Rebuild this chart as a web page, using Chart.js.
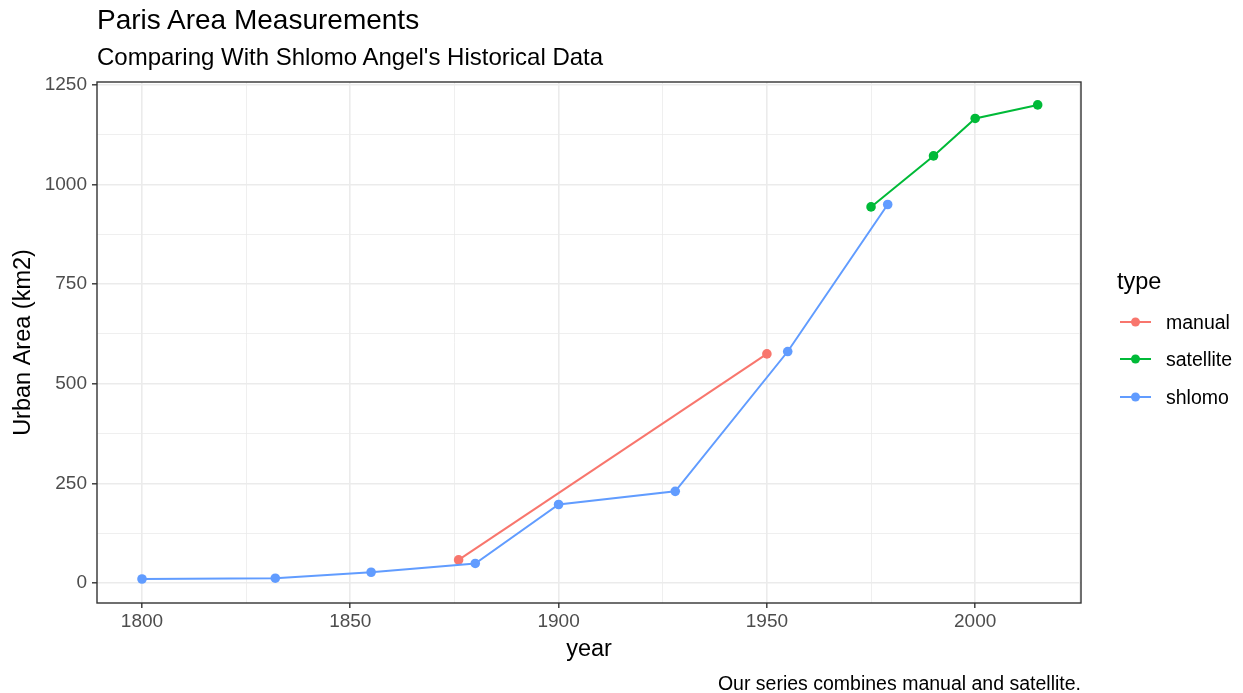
<!DOCTYPE html>
<html>
<head>
<meta charset="utf-8">
<script src="https://cdn.jsdelivr.net/npm/chart.js@4.4.1/dist/chart.umd.min.js"></script>
<style>
  html, body { margin: 0; padding: 0; background: #fff; }
  #wrap { position: relative; width: 1243px; height: 693px; font-family: "Liberation Sans", Arial, sans-serif; }
  #c { position: absolute; left: 0; top: 0; }
  .txt { position: absolute; white-space: nowrap; color: #000; line-height: 1; }
  #title { left: 97px; top: 6px; font-size: 28px; }
  #subtitle { left: 97px; top: 45px; font-size: 24px; }
  #caption { right: 162px; top: 674px; font-size: 19.5px; }
  #legTitle { left: 1117px; top: 270px; font-size: 23.5px; }
  .leg { position: absolute; left: 1118px; height: 20px; font-size: 19.5px; line-height: 1; }
  .leg svg { position: absolute; left: 0; top: 0; }
  .leg span { position: absolute; left: 48px; top: 1px; white-space: nowrap; }
</style>
</head>
<body>
<div id="wrap">
  <canvas id="c" width="1243" height="693"></canvas>
  <div class="txt" id="title">Paris Area Measurements</div>
  <div class="txt" id="subtitle">Comparing With Shlomo Angel's Historical Data</div>
  <div class="txt" id="caption">Our series combines manual and satellite.</div>
  <div class="txt" id="legTitle">type</div>
  <div id="legend"></div>
</div>
<script>
// ---- data ----
const seriesNames = ["manual", "satellite", "shlomo"];
const seriesColors = ["#F8766D", "#00BA38", "#619CFF"];

const manualYears = [1876, 1950];
const manualArea = [58, 575];

const satelliteYears = [1975, 1990, 2000, 2015];
const satelliteArea = [944, 1072, 1166, 1200];

const shlomoYears = [1800, 1832, 1855, 1880, 1900, 1928, 1955, 1979];
const shlomoArea = [10, 12, 27, 49, 197, 230, 581, 950];

const xMajorTicks = [1800, 1850, 1900, 1950, 2000];
const xMinorTicks = [1825, 1875, 1925, 1975, 2025];
const yMajorTicks = [0, 250, 500, 750, 1000, 1250];
const yMinorTicks = [125, 375, 625, 875, 1125];

// ---- build ----
const yearsList = [manualYears, satelliteYears, shlomoYears];
const areaList = [manualArea, satelliteArea, shlomoArea];
const orders = [2, 1, 0];

const datasets = seriesNames.map((name, i) => ({
  label: name,
  data: yearsList[i].map((x, j) => ({ x: x, y: areaList[i][j] })),
  borderColor: seriesColors[i],
  backgroundColor: seriesColors[i],
  pointBackgroundColor: seriesColors[i],
  pointBorderColor: seriesColors[i],
  pointRadius: 4.8,
  pointBorderWidth: 0,
  borderWidth: 2,
  tension: 0,
  order: orders[i]
}));

function sortedTicks(major, minor) {
  return major.concat(minor).sort((a, b) => a - b).map(v => ({ value: v, major: major.includes(v) }));
}

const panelBorder = {
  id: 'panelBorder',
  afterDraw(chart) {
    const a = chart.chartArea, ctx = chart.ctx;
    ctx.save();
    ctx.strokeStyle = '#333333';
    ctx.lineWidth = 1.4;
    ctx.strokeRect(a.left, a.top, a.right - a.left, a.bottom - a.top);
    ctx.restore();
  }
};

const chart = new Chart(document.getElementById('c'), {
  type: 'line',
  data: { datasets },
  plugins: [panelBorder],
  options: {
    responsive: false,
    animation: false,
    devicePixelRatio: 1,
    layout: { padding: { top: 82, right: 162, left: 0, bottom: 28 } },
    plugins: { legend: { display: false }, tooltip: { enabled: false }, title: { display: false } },
    scales: {
      x: {
        type: 'linear',
        min: 1789.2,
        max: 2025.4,
        afterBuildTicks(scale) { scale.ticks = sortedTicks(xMajorTicks, xMinorTicks); },
        afterFit(scale) { scale.height = 62; },
        ticks: {
          autoSkip: false,
          maxRotation: 0,
          padding: 2,
          color: '#4D4D4D',
          font: { family: 'Liberation Sans', size: 19 },
          callback: (v) => xMajorTicks.includes(v) ? String(v) : ''
        },
        grid: {
          color: '#EBEBEB',
          lineWidth: (ctx) => (ctx.tick && xMajorTicks.includes(ctx.tick.value)) ? 1.6 : 0.8,
          tickColor: (ctx) => (ctx.tick && xMajorTicks.includes(ctx.tick.value)) ? '#333333' : 'rgba(0,0,0,0)',
          tickLength: 5,
          tickWidth: 1.4,
          drawOnChartArea: true,
          drawTicks: true
        },
        border: { display: false },
        title: {
          display: true,
          text: 'year',
          color: '#000',
          font: { family: 'Liberation Sans', size: 23.5 },
          padding: { top: 0, bottom: 1 }
        }
      },
      y: {
        type: 'linear',
        min: -50.2,
        max: 1257.5,
        afterBuildTicks(scale) { scale.ticks = sortedTicks(yMajorTicks, yMinorTicks); },
        afterFit(scale) { scale.width = 97; },
        ticks: {
          autoSkip: false,
          padding: 5,
          color: '#4D4D4D',
          font: { family: 'Liberation Sans', size: 19 },
          callback: (v) => yMajorTicks.includes(v) ? String(v) : ''
        },
        grid: {
          color: '#EBEBEB',
          lineWidth: (ctx) => (ctx.tick && yMajorTicks.includes(ctx.tick.value)) ? 1.6 : 0.8,
          tickColor: (ctx) => (ctx.tick && yMajorTicks.includes(ctx.tick.value)) ? '#333333' : 'rgba(0,0,0,0)',
          tickLength: 5,
          tickWidth: 1.4,
          drawOnChartArea: true,
          drawTicks: true
        },
        border: { display: false },
        title: {
          display: true,
          text: 'Urban Area (km2)',
          color: '#000',
          font: { family: 'Liberation Sans', size: 23.5 },
          padding: { top: 9, bottom: 0 }
        }
      }
    }
  }
});

// ---- legend (HTML) ----
const leg = document.getElementById('legend');
const legTops = [312, 349, 387];
seriesNames.forEach((name, i) => {
  const d = document.createElement('div');
  d.className = 'leg';
  d.style.top = legTops[i] + 'px';
  d.innerHTML = '<svg width="36" height="20"><line x1="2" y1="10" x2="33" y2="10" stroke="' + seriesColors[i] +
    '" stroke-width="2"/><circle cx="17.5" cy="10" r="4.5" fill="' + seriesColors[i] + '"/></svg><span>' + name + '</span>';
  leg.appendChild(d);
});
</script>
</body>
</html>
